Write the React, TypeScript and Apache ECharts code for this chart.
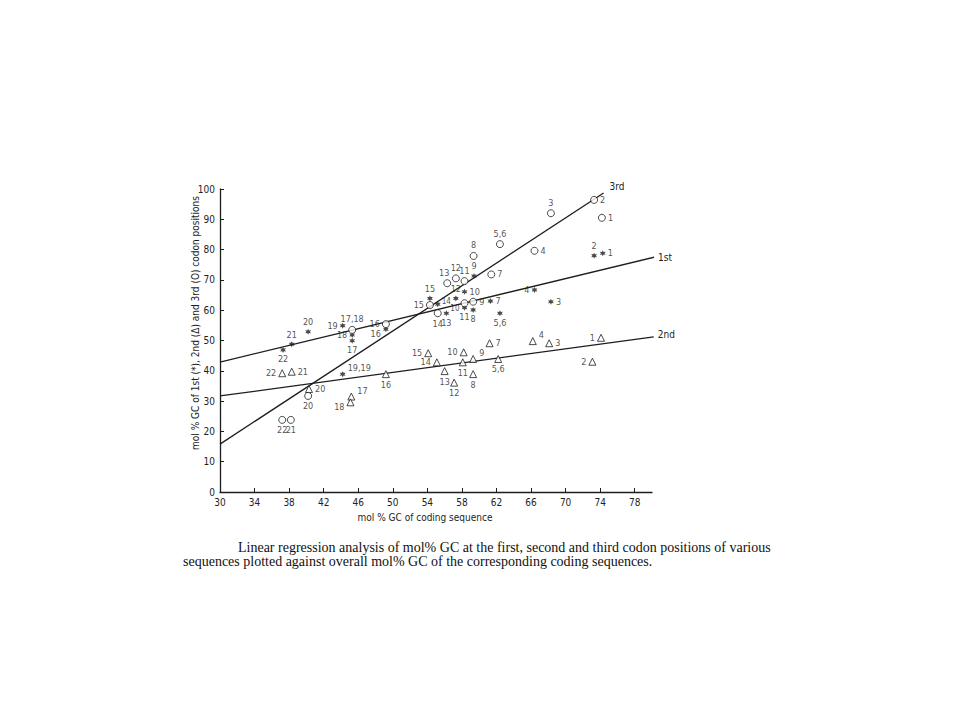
import React, { useEffect, useRef } from "react";
import * as echarts from "echarts";

// Tick values
const xTicks = [30, 34, 38, 42, 46, 50, 54, 58, 62, 66, 70, 74, 78];

// 1st codon position (asterisks): [x, y]
const firstNames = ["1", "2", "3", "4", "5,6", "7", "8", "9", "10", "11", "12", "13", "14", "15", "16", "17", "18", "19", "20", "21", "22"];
const firstX = [74.3, 73.3, 68.3, 66.4, 62.4, 61.3, 59.3, 59.4, 58.3, 58.3, 57.3, 56.2, 55.2, 54.3, 49.2, 45.3, 45.3, 44.2, 40.2, 38.3, 37.3];
const firstY = [78.8, 78.0, 62.8, 66.7, 59.0, 63.0, 60.1, 71.3, 66.1, 60.8, 63.9, 59.0, 62.0, 63.9, 53.7, 49.9, 51.8, 54.9, 52.9, 48.8, 46.9];
const firstPos = ["r", "t", "r", "l", "b", "r", "b", "t", "r", "b", "t", "b", "rn", "t", "bl", "b", "l", "l", "t", "t", "b"];

// 2nd codon position (triangles)
const secondNames = ["1", "2", "3", "4", "5,6", "7", "8", "9", "10", "11", "12", "13", "14", "15", "16", "17", "18", "19,19", "20", "21", "22"];
const secondX = [74.1, 73.1, 68.1, 66.2, 62.2, 61.2, 59.3, 59.3, 58.2, 58.1, 57.1, 56.0, 55.1, 54.1, 49.2, 45.2, 45.1, 44.2, 40.3, 38.3, 37.2];
const secondY = [50.9, 43.0, 49.1, 49.8, 43.9, 49.1, 38.9, 43.9, 46.1, 42.8, 36.1, 39.9, 42.8, 45.8, 38.9, 31.5, 29.6, 38.9, 34.0, 39.7, 39.2];
const secondPos = ["l", "l", "r", "tr", "b", "r", "b", "tr", "l", "b", "b", "b", "l", "l", "b", "tr", "bl", "tr", "r", "r", "l"];

// 3rd codon position (circles)
const thirdNames = ["1", "2", "3", "4", "5,6", "7", "8", "9", "10", "11", "12", "13", "14", "15", "16", "17,18", "20", "21", "22"];
const thirdX = [74.2, 73.3, 68.3, 66.4, 62.4, 61.4, 59.35, 59.3, 58.3, 58.3, 57.3, 56.3, 55.2, 54.3, 49.2, 45.3, 40.2, 38.2, 37.2];
const thirdY = [90.5, 96.4, 92.0, 79.6, 81.8, 71.8, 77.9, 62.8, 62.3, 69.6, 70.5, 68.9, 59.0, 61.7, 55.4, 53.5, 31.7, 23.8, 23.8];
const thirdPos = ["r", "r", "t", "r", "t", "r", "t", "r", "lb", "t", "t", "tl", "b", "l", "l", "t", "b", "b", "b"];

// Regression lines: [x, y] end points
const line1st = [[30, 42.9], [80.4, 77.6]];
const line2nd = [[30, 31.7], [80.2, 51.2]];
const line3rd = [[30, 15.8], [74.4, 98.7]];

const STAR = "path://M1 0L1.25 0.567L1.866 0.5L1.5 1L1.866 1.5L1.25 1.433L1 2L0.75 1.433L0.134 1.5L0.5 1L0.134 0.5L0.75 0.567Z";
const INK = "#1e1e1e";
const NUMFONT = "'Liberation Sans Narrow', 'DejaVu Sans Condensed', 'Liberation Sans', sans-serif";

function labelFor(code: string) {
  const base: any = { show: true, formatter: "{b}", fontSize: 9, color: INK, fontFamily: NUMFONT, distance: 2 };
  switch (code) {
    case "t": return { ...base, position: "top" };
    case "tl": return { ...base, position: "top", offset: [-3, 0] };
    case "b": return { ...base, position: "bottom" };
    case "l": return { ...base, position: "left" };
    case "lb": return { ...base, position: "left", distance: 1, offset: [0, 5], fontSize: 8 };
    case "r": return { ...base, position: "right" };
    case "rn": return { ...base, position: "right", distance: 1, offset: [0, -3], fontSize: 8 };
    case "tr": return { ...base, position: "right", offset: [0, -6] };
    case "bl": return { ...base, position: "left", offset: [0, 5] };
    default: return base;
  }
}

function build(names: string[], xs: number[], ys: number[], pos: string[]) {
  return names.map((n, i) => ({ name: n, value: [xs[i], ys[i]], label: labelFor(pos[i]) }));
}

export default function App() {
  const ref = useRef<HTMLDivElement>(null);
  useEffect(() => {
    if (!ref.current) return;
    const chart = echarts.init(ref.current, null, { renderer: "svg" });
    const secondData: any[] = build(secondNames, secondX, secondY, secondPos);
    secondData[17].symbol = STAR;
    secondData[17].symbolSize = 6;
    secondData[17].itemStyle = { color: INK, borderWidth: 0 };
    const regLine = (data: number[][], name: string, off: number[]) => ({
      type: "line",
      data,
      symbol: "none",
      clip: false,
      silent: true,
      lineStyle: { color: INK, width: 1.3 },
      endLabel: { show: true, formatter: name, color: INK, fontSize: 10, fontFamily: NUMFONT, offset: off, distance: 4 },
      z: 1,
    });
    chart.setOption({
      animation: false,
      backgroundColor: "#ffffff",
      grid: { left: 220, right: 308, top: 189, bottom: 228 },
      xAxis: {
        type: "value", min: 30, max: 80, interval: 4,
        axisLine: { lineStyle: { color: INK, width: 1.3 } },
        axisTick: { inside: true, length: 4, lineStyle: { color: INK }, customValues: xTicks },
        axisLabel: { color: INK, fontSize: 10, fontFamily: NUMFONT, margin: 5, customValues: xTicks },
        splitLine: { show: false },
      },
      yAxis: {
        type: "value", min: 0, max: 100, interval: 10,
        axisLine: { show: true, lineStyle: { color: INK, width: 1.3 } },
        axisTick: { show: true, inside: true, length: 4, lineStyle: { color: INK } },
        axisLabel: { color: INK, fontSize: 10, fontFamily: NUMFONT, margin: 5 },
        splitLine: { show: false },
      },
      graphic: [
        { type: "text", x: 195, y: 323, rotation: Math.PI / 2, style: { text: "mol % GC of 1st (*), 2nd (Δ) and 3rd (O) codon positions", fill: INK, fontSize: 10, fontFamily: NUMFONT, textAlign: "center", textVerticalAlign: "middle" } },
        { type: "text", x: 425, y: 517, style: { text: "mol % GC of coding sequence", fill: INK, fontSize: 10, fontFamily: NUMFONT, textAlign: "center", textVerticalAlign: "middle" } },
        { type: "text", x: 238, y: 547, style: { text: "Linear regression analysis of mol% GC at the first, second and third codon positions of various", fill: "#111", fontSize: 14, fontFamily: "'Liberation Serif', serif", textVerticalAlign: "middle" } },
        { type: "text", x: 183, y: 561, style: { text: "sequences plotted against overall mol% GC of the corresponding coding sequences.", fill: "#111", fontSize: 14, fontFamily: "'Liberation Serif', serif", textVerticalAlign: "middle" } },
      ],
      series: [
        regLine(line3rd, "3rd", [2, -6]),
        regLine(line1st, "1st", [0, 0]),
        regLine(line2nd, "2nd", [0, -2]),
        {
          type: "scatter", name: "1st", data: build(firstNames, firstX, firstY, firstPos),
          symbol: STAR, symbolSize: 6, itemStyle: { color: INK }, z: 3,
        },
        {
          type: "scatter", name: "2nd", data: secondData,
          symbol: "triangle", symbolSize: 7, itemStyle: { color: "#fff", borderColor: INK, borderWidth: 1 }, z: 3,
        },
        {
          type: "scatter", name: "3rd", data: build(thirdNames, thirdX, thirdY, thirdPos),
          symbol: "circle", symbolSize: 7, itemStyle: { color: "#fff", borderColor: INK, borderWidth: 1 }, z: 3,
        },
      ],
    });
    return () => chart.dispose();
  }, []);
  return <div ref={ref} style={{ position: "absolute", left: 0, top: 0, width: 960, height: 720 }} />;
}
